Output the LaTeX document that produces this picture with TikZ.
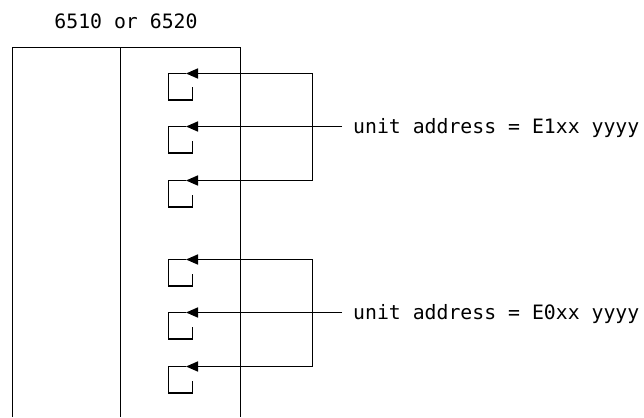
\documentclass[tikz,border=0pt]{standalone}
\usepackage{fontspec}
\setmonofont{DejaVu Sans Mono}
\usetikzlibrary{arrows.meta}
\begin{document}
\begin{tikzpicture}[x=1pt,y=-1pt,
  ln/.style={line width=1.6pt},
  arr/.style={line width=1.6pt,-{Triangle[length=12pt,width=10pt]}},
  lbl/.style={font=\ttfamily\fontsize{19.8}{22}\selectfont,inner sep=0pt}]
\useasboundingbox (0,0) rectangle (644,417);
% frame
\coordinate (bl) at (12.5,417);
\coordinate (tl) at (12.5,47.5);
\coordinate (tr) at (240.5,47.5);
\coordinate (br) at (240.5,417);
\coordinate (mt) at (120.5,47.5);
\coordinate (mb) at (120.5,417);
\draw[ln] (bl) -- (tl) -- (tr) -- (br);
\draw[ln] (mt) -- (mb);
\node[lbl,anchor=base] (title) at (126,28.3) {6510 or 6520};
% brackets and arrows
\foreach \r/\n in {73.5/a,126.5/b,180.5/c,259.5/d,312.5/e,366.5/f}{
  \coordinate (tip\n) at (186,\r);
  \draw[ln] (tip\n) -- (168.5,\r) -- (168.5,\r+26.5) -- (192.5,\r+26.5) -- (192.5,\r+14);
}
% upper group
\coordinate (ua) at (312.5,73.5);
\coordinate (uc) at (312.5,180.5);
\coordinate (ubx) at (342,126.5);
\draw[arr] (ua) -- (tipa);
\draw[arr] (uc) -- (tipc);
\draw[ln] (ua) -- (uc);
\draw[arr] (ubx) -- (tipb);
\node[lbl,anchor=base west] (l1) at (353,133) {unit address = E1xx yyyy};
% lower group
\coordinate (ld) at (312.5,259.5);
\coordinate (lf) at (312.5,366.5);
\coordinate (lex) at (342,312.5);
\draw[arr] (ld) -- (tipd);
\draw[arr] (lf) -- (tipf);
\draw[ln] (ld) -- (lf);
\draw[arr] (lex) -- (tipe);
\node[lbl,anchor=base west] (l2) at (353,319) {unit address = E0xx yyyy};
\end{tikzpicture}
\end{document}
